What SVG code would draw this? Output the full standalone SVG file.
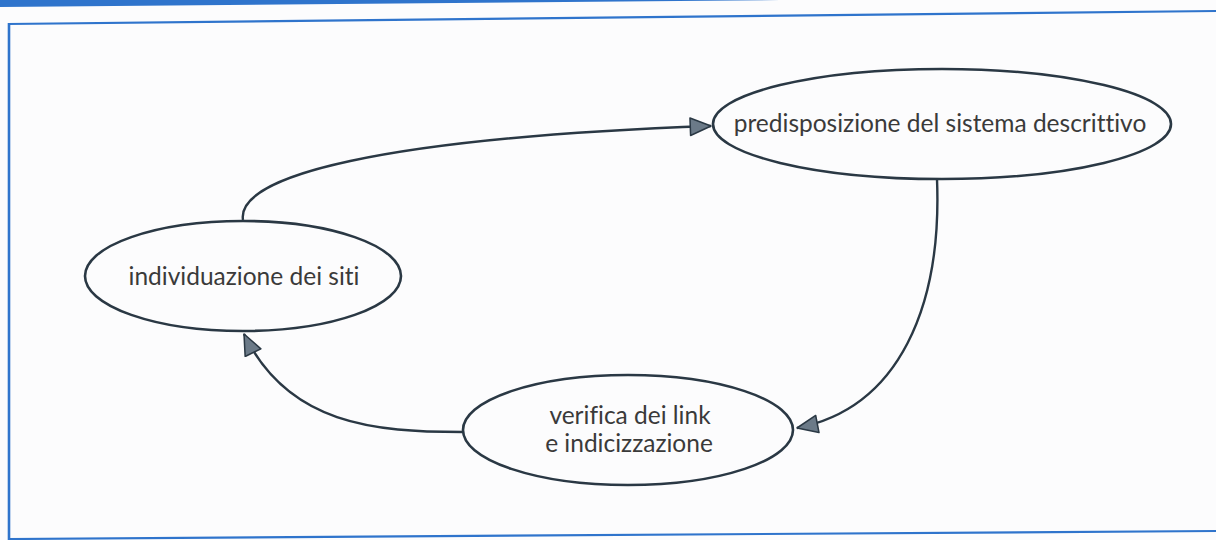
<svg xmlns="http://www.w3.org/2000/svg" width="1216" height="540" viewBox="0 0 1216 540">
<style>
.node ellipse{fill:none;stroke:#2a3844;stroke-width:2.6}
.node text{font-family:Lato,"Open Sans","DejaVu Sans",sans-serif;font-size:24.5px;fill:#3a3a3a;text-anchor:middle;font-variant-ligatures:none}
.conn path{fill:none;stroke:#2a3844;stroke-width:2.4}
.frame{stroke:#2f74cc;fill:none}
</style>
<defs>
<marker id="arr" markerUnits="userSpaceOnUse" markerWidth="24" markerHeight="20" viewBox="-1 -9 22 18" refX="19" refY="0" orient="auto">
<path d="M0,-8 L19,0 L0,8 Z" fill="#6b7a88" stroke="#2a3844" stroke-width="1.4" stroke-linejoin="round"/>
</marker>
</defs>
<rect width="1216" height="540" fill="#fcfcfd"/>
<polygon points="0,0 780,0 0,7" fill="#2f74cc"/>
<line class="frame" x1="8" y1="24" x2="1216" y2="11" stroke-width="2.2"/>
<line class="frame" x1="9" y1="23" x2="9" y2="540" stroke-width="2.6"/>
<line class="frame" x1="9" y1="539" x2="1216" y2="531" stroke-width="2.2"/>
<g class="conn" id="connectors">
<path d="M243,220 C236,176 380,138 711,126" marker-end="url(#arr)"/>
<path d="M937,179 C942,305 900,408 797,428" marker-end="url(#arr)"/>
<path d="M463,432 C375,432 288,425 244,334" marker-end="url(#arr)"/>
</g>
<g class="node" id="n1">
<ellipse cx="942" cy="124" rx="229" ry="55"/>
<text x="940" y="132">predisposizione del sistema descrittivo</text>
</g>
<g class="node" id="n2">
<ellipse cx="243" cy="276" rx="158" ry="55"/>
<text x="244" y="285">individuazione dei siti</text>
</g>
<g class="node" id="n3">
<ellipse cx="628" cy="430" rx="165" ry="55"/>
<text x="630" y="424">verifica dei link</text>
<text x="629" y="452">e indicizzazione</text>
</g>
</svg>
